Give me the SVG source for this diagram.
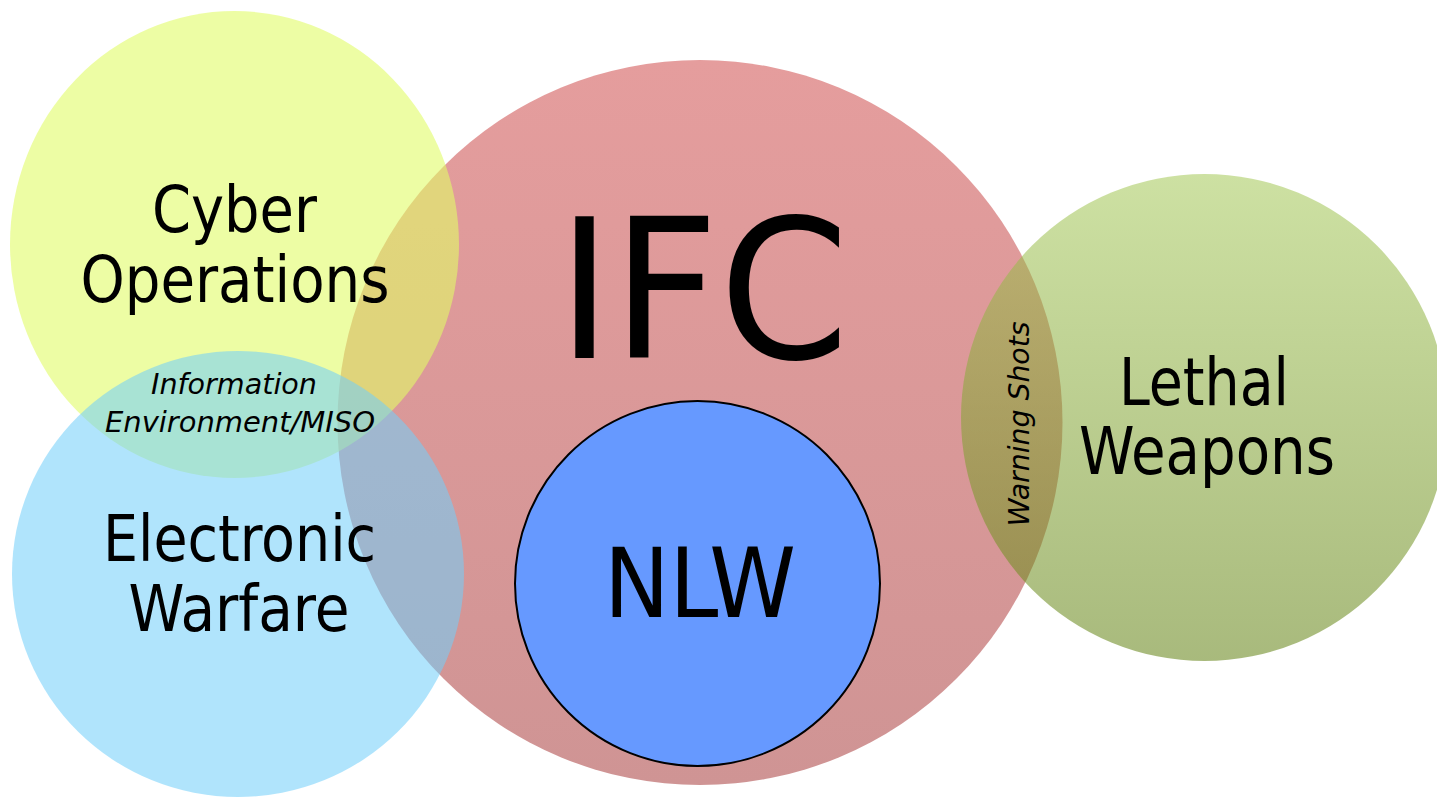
<svg xmlns="http://www.w3.org/2000/svg" width="1437" height="797" viewBox="0 0 1437 797">
  <defs>
    <linearGradient id="redGrad" gradientUnits="userSpaceOnUse" x1="0" y1="60" x2="0" y2="785">
      <stop offset="0" stop-color="#E59D9D"/>
      <stop offset="1" stop-color="#CF9494"/>
    </linearGradient>
    <linearGradient id="greenGrad" gradientUnits="userSpaceOnUse" x1="0" y1="174" x2="0" y2="661">
      <stop offset="0" stop-color="#A4C856"/>
      <stop offset="1" stop-color="#618111"/>
    </linearGradient>
    <style>
      .lbl { font-family: 'DejaVu Sans Condensed', 'DejaVu Sans', sans-serif; font-stretch: condensed; fill: #000; text-anchor: middle; }
      .big { font-size: 64px; }
      .small { font-size: 29px; font-style: italic; }
    </style>
  </defs>

  <g id="ifc">
    <circle cx="700" cy="422.5" r="362.5" fill="url(#redGrad)"/>
    <text class="lbl" x="703" y="358" font-size="195" textLength="292" lengthAdjust="spacingAndGlyphs">IFC</text>
  </g>

  <g id="cyber-operations">
    <ellipse cx="234.5" cy="244.5" rx="224.5" ry="233.5" fill="#E1FC67" fill-opacity="0.6"/>
    <text class="lbl big" x="234.5" y="232" textLength="165" lengthAdjust="spacingAndGlyphs">Cyber</text>
    <text class="lbl big" x="235" y="302" textLength="309" lengthAdjust="spacingAndGlyphs">Operations</text>
  </g>

  <g id="electronic-warfare">
    <ellipse cx="238" cy="574" rx="226" ry="223" fill="#72CFFA" fill-opacity="0.56"/>
    <text class="lbl big" x="239.5" y="561" textLength="273" lengthAdjust="spacingAndGlyphs">Electronic</text>
    <text class="lbl big" x="239" y="631" textLength="221" lengthAdjust="spacingAndGlyphs">Warfare</text>
  </g>

  <g id="information-environment">
    <text class="lbl small" x="234" y="394" textLength="166" lengthAdjust="spacingAndGlyphs">Information</text>
    <text class="lbl small" x="240" y="432" textLength="270" lengthAdjust="spacingAndGlyphs">Environment/MISO</text>
  </g>

  <g id="lethal-weapons">
    <circle cx="1204.5" cy="417.5" r="243.5" fill="url(#greenGrad)" fill-opacity="0.55"/>
    <text class="lbl" x="1204" y="405" font-size="65" textLength="170" lengthAdjust="spacingAndGlyphs">Lethal</text>
    <text class="lbl" x="1207" y="474" font-size="65" textLength="256" lengthAdjust="spacingAndGlyphs">Weapons</text>
  </g>

  <g id="warning-shots">
    <text class="lbl small" transform="translate(1029 424) rotate(-90)" x="0" y="0" textLength="205" lengthAdjust="spacingAndGlyphs">Warning Shots</text>
  </g>

  <g id="nlw">
    <circle cx="697.5" cy="583.5" r="182.5" fill="#6699FF" stroke="#000" stroke-width="2"/>
    <text class="lbl" x="700" y="617" font-size="96" textLength="192" lengthAdjust="spacingAndGlyphs">NLW</text>
  </g>
</svg>
